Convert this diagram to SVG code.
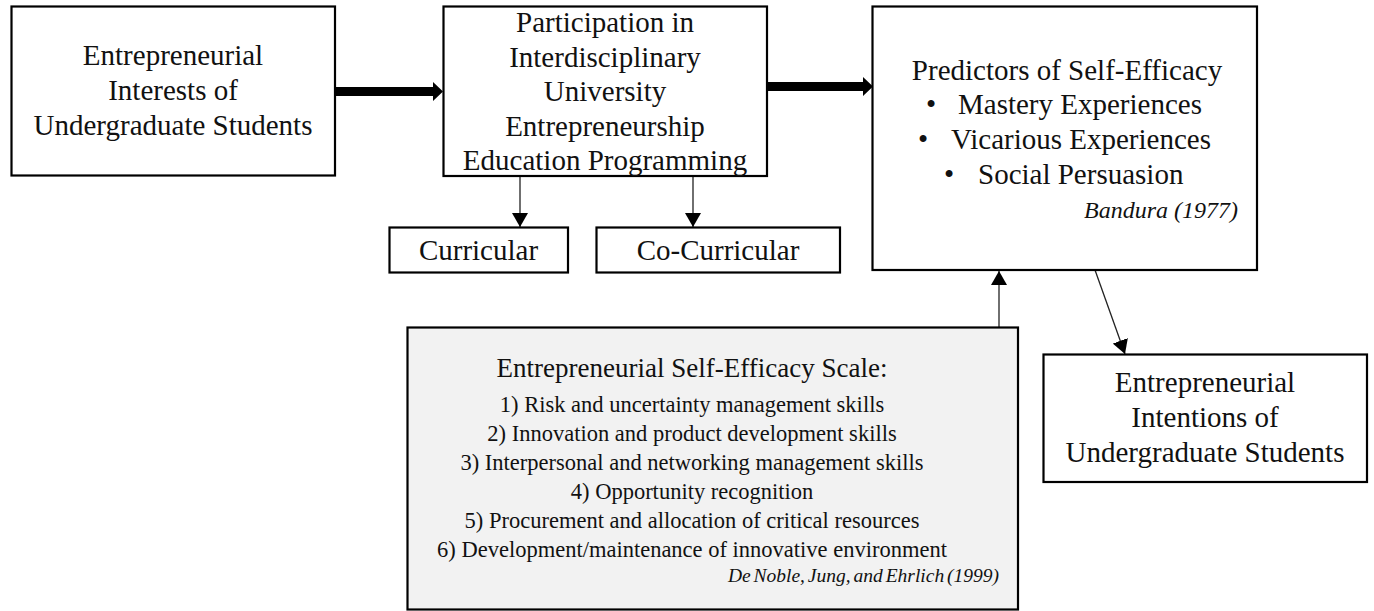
<svg xmlns="http://www.w3.org/2000/svg" width="1374" height="611" viewBox="0 0 1374 611">
  <defs>
    <style>
      .box { fill: #ffffff; stroke: #000000; stroke-width: 2.2; }
      .shaded { fill: #f2f2f2; stroke: #000000; stroke-width: 2.2; }
      .lbl { font-family: "Liberation Serif", "Times New Roman", serif; font-size: 29px; fill: #111111; text-anchor: middle; }
      .item { font-family: "Liberation Serif", "Times New Roman", serif; font-size: 22.5px; fill: #111111; text-anchor: middle; }
      .title { font-size: 27px; }
      .cite { font-family: "Liberation Serif", "Times New Roman", serif; font-style: italic; fill: #111111; text-anchor: end; }
      .thin { fill: none; stroke: #222222; stroke-width: 1.3; }
      .thick { fill: #000000; stroke: none; }
    </style>
    <marker id="tri" viewBox="0 0 14 16" refX="14" refY="8" markerWidth="14" markerHeight="16" markerUnits="userSpaceOnUse" orient="auto">
      <path d="M0,0 L14,8 L0,16 Z" fill="#000000"/>
    </marker>
  </defs>

  <rect width="1374" height="611" fill="#ffffff"/>

  <!-- connectors -->
  <g id="connectors">
    <polygon class="thick" points="335,87 433,87 433,82 443,91.5 433,101 433,96 335,96"/>
    <polygon class="thick" points="767,82 863,82 863,77 873,86.5 863,96 863,91 767,91"/>
    <line class="thin" x1="520" y1="177" x2="520" y2="227" marker-end="url(#tri)"/>
    <line class="thin" x1="693" y1="177" x2="693" y2="227" marker-end="url(#tri)"/>
    <line class="thin" x1="999" y1="327" x2="999" y2="271" marker-end="url(#tri)"/>
    <line class="thin" x1="1095" y1="270" x2="1125" y2="354" marker-end="url(#tri)"/>
  </g>

  <g id="interests">
    <rect class="box" x="11.5" y="6.5" width="323.5" height="169"/>
    <text class="lbl" x="173" y="65">Entrepreneurial</text>
    <text class="lbl" x="173" y="100">Interests of</text>
    <text class="lbl" x="173" y="135">Undergraduate Students</text>
  </g>

  <g id="participation">
    <rect class="box" x="443.5" y="6.5" width="323.5" height="169.5"/>
    <text class="lbl" x="605" y="32">Participation in</text>
    <text class="lbl" x="605" y="66.5">Interdisciplinary</text>
    <text class="lbl" x="605" y="101">University</text>
    <text class="lbl" x="605" y="135.5">Entrepreneurship</text>
    <text class="lbl" x="605" y="170">Education Programming</text>
  </g>

  <g id="curricular">
    <rect class="box" x="389.5" y="227.5" width="178.5" height="45"/>
    <text class="lbl" x="478.5" y="260">Curricular</text>
  </g>

  <g id="co-curricular">
    <rect class="box" x="596.5" y="227.5" width="243.5" height="45"/>
    <text class="lbl" x="718" y="260">Co-Curricular</text>
  </g>

  <g id="predictors">
    <rect class="box" x="872.5" y="6.5" width="384.5" height="263.5"/>
    <text class="lbl" x="1067" y="80">Predictors of Self-Efficacy</text>
    <text class="lbl" x="926" y="114" style="text-anchor:start">•</text>
    <text class="lbl" x="958" y="114" style="text-anchor:start">Mastery Experiences</text>
    <text class="lbl" x="918" y="149" style="text-anchor:start">•</text>
    <text class="lbl" x="951" y="149" style="text-anchor:start">Vicarious Experiences</text>
    <text class="lbl" x="944" y="184" style="text-anchor:start">•</text>
    <text class="lbl" x="978" y="184" style="text-anchor:start">Social Persuasion</text>
    <text class="cite" x="1238" y="218" style="font-size:24px">Bandura (1977)</text>
  </g>

  <g id="scale">
    <rect class="shaded" x="407.5" y="327.5" width="610.5" height="282"/>
    <text class="item title" x="692" y="377">Entrepreneurial Self-Efficacy  Scale:</text>
    <text class="item" x="692" y="412">1) Risk and uncertainty management skills</text>
    <text class="item" x="692" y="441">2) Innovation and product development skills</text>
    <text class="item" x="692" y="470">3) Interpersonal and networking management skills</text>
    <text class="item" x="692" y="499">4) Opportunity recognition</text>
    <text class="item" x="692" y="528">5) Procurement and allocation of critical resources</text>
    <text class="item" x="692" y="557">6) Development/maintenance of innovative environment</text>
    <text class="cite" x="999" y="582" style="font-size:19.5px; word-spacing:-2px">De Noble, Jung, and Ehrlich (1999)</text>
  </g>

  <g id="intentions">
    <rect class="box" x="1043.5" y="354.5" width="323.5" height="127.5"/>
    <text class="lbl" x="1205" y="392">Entrepreneurial</text>
    <text class="lbl" x="1205" y="427">Intentions of</text>
    <text class="lbl" x="1205" y="462">Undergraduate Students</text>
  </g>
</svg>
